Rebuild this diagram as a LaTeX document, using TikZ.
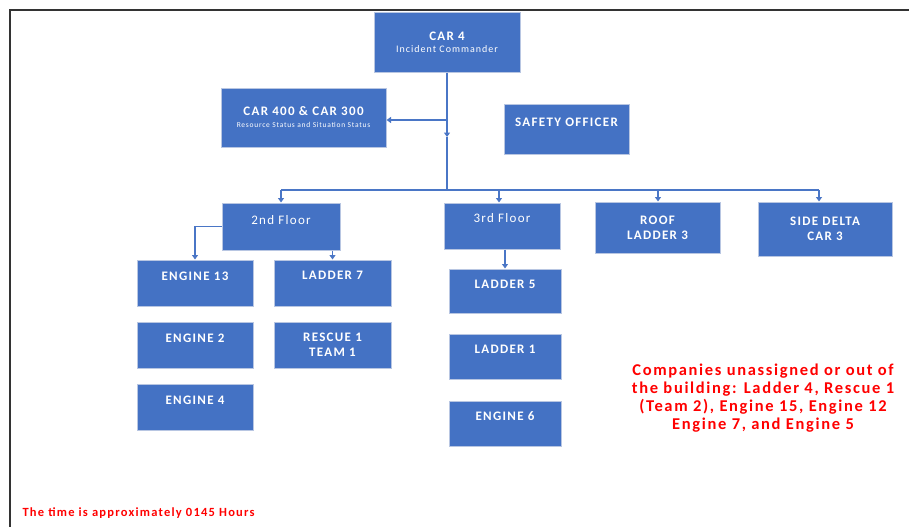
\documentclass[tikz,border=0pt]{standalone}
\usepackage{fontspec}
\setmainfont{Carlito}[LetterSpace=10]
\usetikzlibrary{arrows.meta,calc}
\definecolor{boxblue}{HTML}{4472C4}
\definecolor{boxedge}{HTML}{B8C6E2}
\definecolor{linkblue}{HTML}{4A76C6}
\definecolor{framegray}{HTML}{333333}
\begin{document}
\begin{tikzpicture}[x=1pt,y=-1pt,
  box/.style={draw=boxedge, line width=1pt, fill=boxblue, text=white,
    font=\bfseries\fontsize{13}{15}\selectfont, align=center, inner sep=0pt},
  one/.style={text depth=14pt},
  conn/.style={draw=linkblue, line width=1.4pt},
  tip/.style={-{Triangle[width=6pt,length=4.5pt]}},
  redtext/.style={text=red, font=\bfseries\fontsize{16.5}{17.8}\selectfont, align=center},
]
\useasboundingbox (0,0) rectangle (909,527);
\fill[white] (0,0) rectangle (909,527);
\draw[line width=2pt, framegray] (909,10) -- (10,10) -- (10,527);

% top level
\node[box, minimum width=146pt, minimum height=59pt] (car4) at (447,42.5)
  {CAR 4\\[-3pt]{\mdseries\fontsize{10}{11}\selectfont Incident Commander}};
\node[box, minimum width=165pt, minimum height=59pt] (car400) at (303.5,117.5)
  {CAR 400 \& CAR 300\\[-3pt]{\mdseries\fontsize{7.5}{8.5}\selectfont Resource Status and Situation Status}};
\node[box, one, minimum width=125pt, minimum height=50pt] (safety) at (566.5,129) {SAFETY OFFICER};

% second level
\node[box, one, minimum width=118pt, minimum height=47pt, font=\mdseries\fontsize{13}{15}\selectfont] (f2) at (281,226.5) {2nd Floor};
\node[box, one, minimum width=116pt, minimum height=46pt, font=\mdseries\fontsize{13}{15}\selectfont, text depth=16pt] (f3) at (502,226) {3rd Floor};
\node[box, minimum width=125pt, minimum height=51pt] (roof) at (657.5,227.5) {ROOF\\LADDER 3};
\node[box, minimum width=134pt, minimum height=54pt] (delta) at (825,229) {SIDE DELTA\\CAR 3};

% 2nd floor companies
\node[box, one, minimum width=116pt, minimum height=46pt] (e13) at (195,283) {ENGINE 13};
\node[box, one, minimum width=116pt, minimum height=46pt] (e2) at (195,345) {ENGINE 2};
\node[box, one, minimum width=116pt, minimum height=46pt] (e4) at (195,407) {ENGINE 4};
\node[box, one, minimum width=117pt, minimum height=46pt, text depth=16pt] (l7) at (332.5,283) {LADDER 7};
\node[box, minimum width=117pt, minimum height=46pt] (r1) at (332.5,345) {RESCUE 1\\TEAM 1};

% 3rd floor companies
\node[box, one, minimum width=112pt, minimum height=44pt] (l5) at (505,291) {LADDER 5};
\node[box, one, minimum width=112pt, minimum height=45pt] (l1) at (505,356.5) {LADDER 1};
\node[box, one, minimum width=112pt, minimum height=45pt] (e6) at (505,423.5) {ENGINE 6};

% texts
\node[redtext] (note) at (763,398) {Companies unassigned or out of\\the building: Ladder 4, Rescue 1\\(Team 2), Engine 15, Engine 12\\Engine 7, and Engine 5};
\node[anchor=west, text=red, font=\bfseries\fontsize{12.5}{14}\selectfont] (time) at (19,513.5) {The time is approximately 0145 Hours};

% connectors
\coordinate (tA) at (447,137);
\coordinate (tB) at (447,190);
\coordinate (tC) at (447,120);
\coordinate (bL) at (281,190);
\coordinate (b3) at (499,190);
\coordinate (bR) at (658,190);
\coordinate (bD) at (819,190);
\draw[conn,tip] (car4.south) -- (tA);
\draw[conn] (tA) -- (tB);
\draw[conn,tip] (tC) -- (car400.east |- tC);
\draw[conn] (bL) -- (bD);
\draw[conn,tip] (bL) -- (f2.north);
\draw[conn,tip] (b3) -- (b3 |- f3.north);
\draw[conn,tip] (bR) -- (bR |- roof.north);
\draw[conn,tip] (bD) -- (bD |- delta.north);
\draw[conn,tip] (f2.west) -| (e13.north);
\draw[conn,tip] (f2.south -| l7.north) -- (l7.north);
\draw[conn,tip] (f3.south -| l5.north) -- (l5.north);
\end{tikzpicture}
\end{document}
